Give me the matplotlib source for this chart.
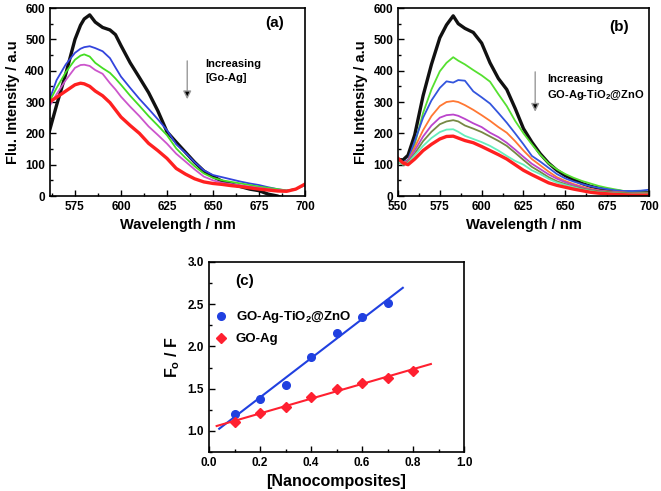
import numpy as np
from matplotlib import pyplot as plt
from matplotlib.ticker import MultipleLocator

plt.rcParams["font.family"] = ["Liberation Sans", "DejaVu Sans"]
plt.rcParams["font.weight"] = "bold"
plt.rcParams["mathtext.default"] = "regular"

# panel (a): quenching by GO-Ag
wl_a = [561, 565, 570, 575, 578, 580, 583, 586, 590, 594, 597, 600, 605, 610, 615, 620,
        625, 630, 635, 640, 645, 650, 655, 660, 665, 670, 675, 680, 685, 690, 695, 700]
a_black = [205, 290, 390, 500, 545, 565, 578, 555, 538, 530, 515, 480, 425, 378, 330, 272,
           205, 172, 140, 108, 80, 62, 47, 38, 30, 22, 17, 6, 0, -10, -20, -30]
a_blue = [305, 370, 420, 457, 470, 475, 478, 472, 462, 440, 410, 381, 345, 310, 278, 245,
          210, 165, 138, 108, 82, 67, 60, 53, 46, 40, 35, 28, 22, 17, 22, 35]
a_green = [300, 345, 395, 435, 448, 452, 445, 425, 408, 393, 375, 355, 320, 288, 255, 225,
           194, 152, 122, 95, 72, 58, 50, 45, 40, 35, 30, 26, 22, 18, 22, 35]
a_purple = [285, 325, 370, 409, 418, 419, 415, 402, 390, 360, 340, 317, 285, 255, 222, 195,
            167, 135, 110, 85, 62, 50, 42, 38, 34, 30, 26, 22, 19, 17, 22, 35]
a_red = [300, 315, 335, 355, 360, 358, 350, 335, 320, 298, 275, 252, 225, 200, 168, 145,
         120, 88, 70, 55, 45, 40, 37, 33, 30, 26, 22, 19, 16, 15, 22, 38]

# panel (b): quenching by GO-Ag-TiO2@ZnO
wl_b = [550, 553, 556, 560, 565, 570, 575, 579, 583, 586, 590, 595, 600, 605, 610, 615, 620,
        625, 630, 635, 640, 645, 650, 655, 660, 665, 670, 675, 680, 685, 690, 695, 700]
b_black = [117, 115, 130, 195, 320, 420, 505, 546, 575, 550, 535, 522, 488, 425, 375, 340, 280,
           215, 172, 135, 105, 82, 65, 52, 40, 31, 25, 20, 16, 13, 11, 10, 10]
b_green = [112, 104, 110, 165, 265, 340, 398, 425, 443, 432, 420, 402, 385, 365, 325, 287, 240,
           200, 165, 132, 104, 85, 70, 58, 48, 40, 32, 26, 21, 16, 13, 11, 10]
b_blue = [118, 108, 115, 175, 250, 305, 345, 366, 362, 370, 368, 334, 315, 295, 265, 234, 200,
          165, 128, 110, 90, 70, 56, 46, 38, 31, 26, 22, 18, 16, 16, 17, 20]
b_orange = [115, 106, 112, 155, 210, 255, 287, 300, 303, 300, 290, 275, 258, 240, 220, 202, 175,
            145, 118, 98, 78, 60, 48, 38, 30, 23, 18, 15, 13, 11, 9, 8, 8]
b_purple = [110, 103, 110, 145, 190, 225, 250, 258, 260, 256, 246, 232, 220, 202, 188, 170, 148,
            125, 103, 86, 69, 55, 44, 35, 27, 21, 17, 14, 12, 10, 9, 8, 8]
b_olive = [108, 100, 108, 135, 175, 205, 229, 238, 242, 238, 225, 215, 204, 190, 176, 160, 138,
           115, 93, 77, 60, 47, 38, 30, 24, 19, 15, 13, 11, 10, 9, 8, 8]
b_cyan = [110, 100, 105, 130, 160, 185, 204, 212, 213, 205, 192, 182, 172, 160, 145, 128, 112,
          100, 82, 70, 55, 43, 35, 28, 21, 16, 12, 10, 8, 7, 6, 6, 6]
b_red = [120, 105, 100, 118, 145, 165, 182, 190, 191, 185, 177, 170, 158, 145, 132, 118, 100,
         82, 68, 55, 42, 34, 28, 22, 17, 12, 9, 7, 5, 4, 3, 3, 3]

# panel (c): Stern-Volmer
conc_zno = [0.1, 0.2, 0.3, 0.4, 0.5, 0.6, 0.7]
f0f_zno = [1.20, 1.38, 1.54, 1.88, 2.16, 2.35, 2.51]
conc_ag = [0.1, 0.2, 0.3, 0.4, 0.5, 0.6, 0.7, 0.8]
f0f_ag = [1.10, 1.21, 1.28, 1.40, 1.50, 1.57, 1.63, 1.71]
fit_range_zno = [0.04, 0.76]
fit_range_ag = [0.03, 0.87]


def style(ax, xmaj, xmin, ymaj, ymin):
    ax.xaxis.set_major_locator(MultipleLocator(xmaj))
    ax.xaxis.set_minor_locator(MultipleLocator(xmin))
    ax.yaxis.set_major_locator(MultipleLocator(ymaj))
    ax.yaxis.set_minor_locator(MultipleLocator(ymin))
    ax.tick_params(which="both", direction="in", labelsize=8.5, width=1)
    ax.tick_params(which="major", length=4)
    ax.tick_params(which="minor", length=2)
    for s in ax.spines.values():
        s.set_linewidth(1.2)


def spectrum_axes(ax, xlo):
    ax.set_xlim(xlo, 700)
    ax.set_ylim(0, 600)
    style(ax, 25, 12.5, 100, 50)
    ax.set_xlabel("Wavelength / nm", fontsize=10.5, fontweight="bold")
    ax.set_ylabel("Flu. Intensity / a.u", fontsize=10.5, fontweight="bold")


fig = plt.figure(figsize=(6.61, 4.91), dpi=100)

ax_a = fig.add_axes([0.0756, 0.6008, 0.3858, 0.3829])
ax_a.plot(wl_a, a_black, color="#111111", lw=2.4)
ax_a.plot(wl_a, a_blue, color="#3344dd", lw=1.3)
ax_a.plot(wl_a, a_green, color="#44dd22", lw=1.3)
ax_a.plot(wl_a, a_purple, color="#cc55cc", lw=1.3)
ax_a.plot(wl_a, a_red, color="#ff2020", lw=2.4)
spectrum_axes(ax_a, 561.4)
ax_a.annotate("", xy=(636, 300), xytext=(636, 440),
              arrowprops=dict(arrowstyle="-|>", color="#999999", lw=1.0,
                              mutation_scale=12, fc="black", ec="#999999"))
ax_a.text(646, 400, "Increasing\n[Go-Ag]", fontsize=8, fontweight="bold",
          va="center", ha="left", linespacing=1.5)
ax_a.text(0.88, 0.92, "(a)", transform=ax_a.transAxes, fontsize=11,
          fontweight="bold", ha="center", va="center")

ax_b = fig.add_axes([0.6021, 0.6008, 0.3797, 0.3829])
ax_b.plot(wl_b, b_black, color="#111111", lw=2.4)
ax_b.plot(wl_b, b_green, color="#55e030", lw=1.3)
ax_b.plot(wl_b, b_blue, color="#3355dd", lw=1.3)
ax_b.plot(wl_b, b_orange, color="#ff7733", lw=1.3)
ax_b.plot(wl_b, b_purple, color="#bb44cc", lw=1.3)
ax_b.plot(wl_b, b_olive, color="#778844", lw=1.3)
ax_b.plot(wl_b, b_cyan, color="#66eebb", lw=1.3)
ax_b.plot(wl_b, b_red, color="#ff2020", lw=2.4)
spectrum_axes(ax_b, 550)
ax_b.annotate("", xy=(632, 260), xytext=(632, 405),
              arrowprops=dict(arrowstyle="-|>", color="#999999", lw=1.0,
                              mutation_scale=12, fc="black", ec="#999999"))
ax_b.text(639, 345, "Increasing\nGO-Ag-TiO$_2$@ZnO", fontsize=8,
          fontweight="bold", va="center", ha="left", linespacing=1.5)
ax_b.text(0.88, 0.90, "(b)", transform=ax_b.transAxes, fontsize=11,
          fontweight="bold", ha="center", va="center")

ax_c = fig.add_axes([0.3162, 0.0794, 0.3858, 0.3870])
p1 = np.polyfit(conc_zno, f0f_zno, 1)
p2 = np.polyfit(conc_ag, f0f_ag, 1)
ax_c.plot(fit_range_zno, np.polyval(p1, fit_range_zno), color="#2040e0", lw=1.5)
ax_c.plot(fit_range_ag, np.polyval(p2, fit_range_ag), color="#ff2030", lw=1.5)
ax_c.plot(conc_zno, f0f_zno, "o", color="#2040e0", ms=5.5, label="GO-Ag-TiO$_2$@ZnO")
ax_c.plot(conc_ag, f0f_ag, "D", color="#ff2030", ms=5, label="GO-Ag")
ax_c.set_xlim(0, 1.0)
ax_c.set_ylim(0.75, 3.0)
style(ax_c, 0.2, 0.1, 0.5, 0.25)
ax_c.xaxis.set_major_formatter(plt.FormatStrFormatter("%.1f"))
ax_c.yaxis.set_major_formatter(plt.FormatStrFormatter("%.1f"))
ax_c.set_xlabel("[Nanocomposites]", fontsize=11.5, fontweight="bold")
ax_c.set_ylabel("F$_o$ / F", fontsize=11.5, fontweight="bold")
ax_c.legend(loc="upper left", bbox_to_anchor=(-0.04, 0.80), frameon=False,
            fontsize=9.5, handletextpad=0.1, borderaxespad=0.3, labelspacing=0.6)
ax_c.text(0.14, 0.9, "(c)", transform=ax_c.transAxes, fontsize=11,
          fontweight="bold", ha="center", va="center")

plt.savefig("out.png", dpi=100)
